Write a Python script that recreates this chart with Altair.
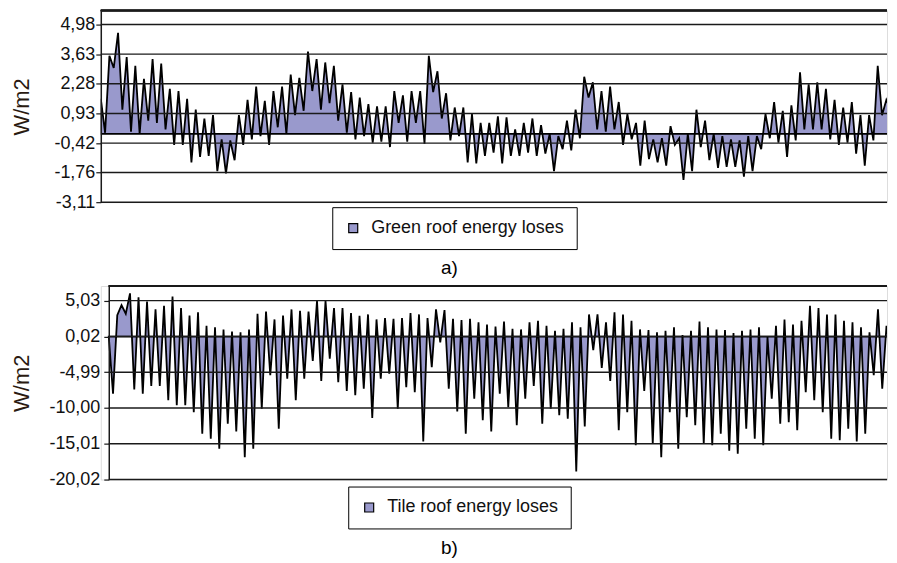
import altair as alt
import pandas as pd

# ---- data (peaks and troughs, in sample order) ----
green_values = [
    1.6, 0.05, 3.55, 3.0, 4.6, 1.1, 3.5, 0.1, 3.1, 0.0, 2.5, 0.6, 3.4, 0.5, 3.2, 0.2,
    2.05, -0.5, 1.95, -0.5, 1.6, -1.3, 1.1, -1.05, 0.7, -1.0, 0.85, -1.7, -0.25, -1.8,
    -0.3, -1.2, 0.85, -0.5, 1.55, -0.25, 2.15, -0.1, 1.5, -0.5, 1.95, 0.3, 2.15, 0.0,
    2.7, 0.85,
    2.55, 1.05, 3.75, 1.95, 3.4, 1.1, 3.25, 1.4, 3.1, 0.6, 2.25, 0.05, 1.9, -0.25, 1.65,
    -0.1, 1.35, -0.4, 1.25, -0.35, 1.25, -0.6, 1.95, 0.5, 1.75, -0.35, 1.95, 0.5, 1.95,
    -0.45, 3.55, 1.9, 2.85, 0.7, 1.85, -0.3, 1.2, -0.1, 1.2, -1.3, 0.9, -1.35, 0.5, -1.0,
    0.5, -0.85, 0.8, -1.35, 0.75, -1.0, 0.2, -1.0, 0.5, -0.85, 0.7, -1.0, 0.4, -0.9, 0.0,
    -1.7, -0.1, -0.7, 0.6, -0.75, 1.1, -0.2, 2.6,
    1.65, 2.35, 0.2, 1.95, 0.1, 2.15, 0.2, 1.45, -0.5, 0.9, -0.25, 0.5, -1.45, 0.6, -1.15,
    -0.25, -1.3, -0.2, -1.45, 0.35, -0.5, -0.2, -2.1, 0.0, -1.7, 1.1, -0.6, 0.6, -1.2,
    0.0, -1.55, -0.1, -1.5, -0.25, -1.5, -0.3, -1.95, -0.1, -1.7, -0.1, -0.7, 0.9, -0.2,
    1.45, -0.4, 1.05, -1.05, 1.3, -0.3, 2.8, 0.2, 2.25, 0.2, 2.35, 0.2, 2.05, -0.25, 1.55,
    -0.5, 1.2, -0.4, 1.45, -0.9, 0.85, -1.45, 0.85, -0.3, 3.1, 0.85, 1.55, 1.1, 2.7,
]

tile_values = [
    0.0, -8.0, 3.0, 4.4, 3.2, 6.05, -7.4, 5.5, -8.0, 4.9, -6.9, 3.8, -6.9, 4.3, -8.9, 5.6,
    -9.6, 4.0, -9.6, 2.95, -10.6, 3.4, -13.6, 1.5, -14.3, 1.3, -15.7, 1.0, -12.2, 0.7,
    -13.3, 0.6, -16.9, 1.0, -15.7, 3.2, -10.1, 3.5, -5.4, 2.4, -12.9, 2.95, -5.9, 3.8,
    -8.9, 3.6,
    -5.9, 3.5, -3.4, 5.0, -6.2, 5.0, -3.1, 4.0, -6.4, 4.0, -7.6, 3.3, -8.2, 2.9, -7.3, 3.1,
    -11.4, 2.4, -5.9, 2.6, -5.2, 2.5, -10.1, 2.6, -7.1, 3.3, -7.8, 3.1, -14.7, 2.6, -4.3,
    3.8, -0.8, 3.7, -7.3, 2.5, -10.5, 2.3, -13.6, 2.5, -8.7, 2.0, -11.7, 1.7, -13.3, 1.4,
    -8.0, 2.1, -9.9, 1.1, -12.4, 1.0, -8.7, 2.0, -6.9, 2.2, -12.2, 1.5, -10.1, 0.8, -11.0,
    1.1, -11.5, 2.0, -18.9, 1.3, -12.6, 3.1,
    -1.9, 3.1, -4.4, 2.0, -6.2, 3.4, -13.1, 3.1, -10.6, 2.2, -15.2, 1.0, -7.6, 0.9, -15.0,
    0.6, -16.9, 0.8, -10.6, 1.3, -15.7, 0.2, -11.3, 0.8, -12.4, 2.1, -15.0, 1.3, -15.2,
    1.0, -13.6, 0.9, -16.0, 0.5, -16.4, 0.8, -12.9, 1.0, -14.3, 1.3, -15.2, -0.1, -8.7,
    1.5, -12.2, 2.4, -12.0, 1.7, -13.1, 2.2, -7.8, 4.3, -8.9, 4.0, -10.6, 3.1, -14.3, 3.1,
    -14.5, 2.2, -12.9, 2.0, -14.7, 1.3, -13.6, 0.6, -5.4, 3.8, -7.3, 1.5, -1.9, 5.1,
]

green_ticks = [-3.11, -1.76, -0.42, 0.93, 2.28, 3.63, 4.98]
tile_ticks = [-20.02, -15.01, -10.00, -4.99, 0.02, 5.03]
green_label = "Green roof energy loses"
tile_label = "Tile roof energy loses"

FILL = "#9999CC"
FONT = "Liberation Sans"
LINE = "#1a1a1a"
LABEL_EXPR = "(datum.value < 0 ? '-' : '') + replace(format(abs(datum.value), '.2f'), '.', ',')"


def panel(values, ticks, domain, label, caption, width, height, ref_span, shift,
          lx, ly, title_pad, label_pad, cap_offset):
    n = len(values)
    df = pd.DataFrame({"i": list(range(n)), "v": values, "series": [label] * n})
    grid_df = pd.DataFrame({"t": ticks})
    # the original series runs past the right edge of the cropped picture
    px_per = ref_span / (n - 1)
    x0 = -shift / px_per
    x1 = (width - shift) / px_per
    xscale = alt.Scale(domain=[x0, x1], nice=False, zero=False)
    yscale = alt.Scale(domain=domain, nice=False, zero=False)
    yaxis = alt.Axis(values=ticks, tickCount=20, labelOverlap=False,
                     labelExpr=LABEL_EXPR, title="W/m2", grid=False,
                     offset=-shift,
                     domainColor=LINE, domainWidth=1.5,
                     tickColor=LINE, tickSize=5, tickWidth=1.2,
                     labelPadding=label_pad, labelFontSize=18, labelFont=FONT,
                     labelColor="#111", titleFont=FONT, titleFontSize=22,
                     titleFontWeight="normal", titleColor="#2a1a10",
                     titlePadding=title_pad, zindex=1)
    area = alt.Chart(df).mark_area(
        stroke="black", strokeWidth=1.8, fillOpacity=1, interpolate="linear", clip=True
    ).encode(
        x=alt.X("i:Q", scale=xscale, axis=None),
        y=alt.Y("v:Q", scale=yscale, axis=yaxis),
        y2=alt.datum(0),
        color=alt.Color("series:N", scale=alt.Scale(range=[FILL]),
                        legend=alt.Legend(orient="none", legendX=lx, legendY=ly,
                                          title=None, symbolType="square",
                                          symbolSize=81, symbolStrokeColor="black",
                                          symbolStrokeWidth=1.2, symbolFillColor=FILL,
                                          labelFontSize=18, labelFont=FONT,
                                          labelColor="#111", labelOffset=9,
                                          labelLimit=400, strokeColor="black",
                                          padding=12)),
    )
    grid = alt.Chart(grid_df).mark_rule(color=LINE, strokeWidth=1.4).encode(
        y=alt.Y("t:Q", scale=yscale, axis=yaxis),
        x=alt.XDatum(0, scale=xscale, axis=None),
        x2=alt.datum(x1),
    )
    top_border = alt.Chart(grid_df).mark_rule(color=LINE, strokeWidth=1.5).encode(
        y=alt.YDatum(domain[1], scale=yscale, axis=yaxis),
        x=alt.XDatum(0, scale=xscale, axis=None),
        x2=alt.datum(x1),
    )
    return alt.layer(area, grid, top_border).properties(
        width=width, height=height,
        title=alt.TitleParams(text=caption, orient="bottom", anchor="middle",
                              frame="bounds", fontSize=19, fontWeight="normal",
                              font=FONT, color="black", offset=cap_offset),
    )


top = panel(green_values, green_ticks, [-3.11, 5.61], green_label, "a)",
            788, 192, 796, 0, 232, 197, 20, 1, 9)
bottom = panel(tile_values, tile_ticks, [-20.02, 7.08], tile_label, "b)",
               788, 194, 788, 8, 248, 201, 15, 4, 10)

chart = alt.concat(top, bottom, columns=1, spacing=6, align="none").resolve_scale(
    color="independent"
).resolve_legend(color="independent").configure_view(
    strokeOpacity=0, strokeWidth=0
).configure(
    padding={"left": 2, "top": 0, "right": 0, "bottom": 0},
    background="white",
)

chart.save("out.html", embed_options={"renderer": "svg", "actions": False})
